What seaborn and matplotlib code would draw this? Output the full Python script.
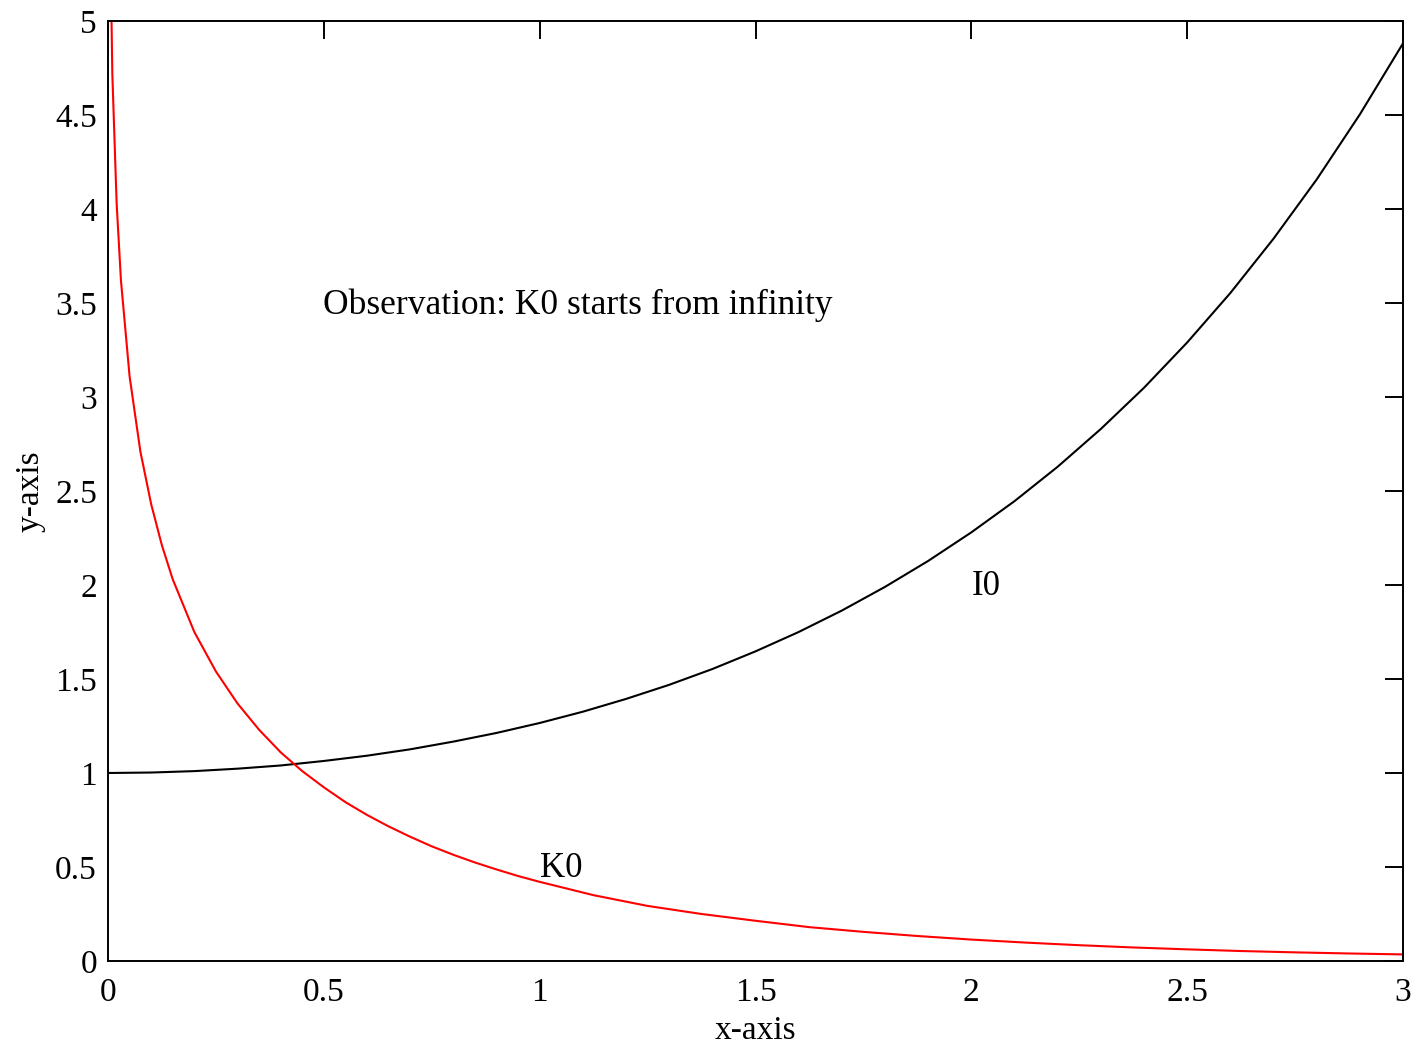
import matplotlib
matplotlib.use("Agg")
import matplotlib.pyplot as plt
import seaborn as sns
import pandas as pd

# Values
i0_x = [0.0, 0.1, 0.2, 0.3, 0.4, 0.5, 0.6, 0.7, 0.8, 0.9, 1.0, 1.1, 1.2, 1.3, 1.4, 1.5,
        1.6, 1.7, 1.8, 1.9, 2.0, 2.1, 2.2, 2.3, 2.4, 2.5, 2.6, 2.7, 2.8, 2.9, 3.0]
i0_y = [1.0, 1.0025, 1.010, 1.023, 1.040, 1.064, 1.092, 1.126, 1.167, 1.213, 1.266, 1.326,
        1.394, 1.469, 1.553, 1.647, 1.750, 1.864, 1.990, 2.128, 2.280, 2.446, 2.629, 2.830,
        3.049, 3.290, 3.553, 3.842, 4.157, 4.503, 4.881]

k0_x = [0.004, 0.01, 0.02, 0.03, 0.05, 0.075, 0.1, 0.125, 0.15, 0.2, 0.25, 0.3, 0.35, 0.4,
        0.45, 0.5, 0.55, 0.6, 0.65, 0.7, 0.75, 0.8, 0.85, 0.9, 0.95, 1.0, 1.125, 1.25, 1.375,
        1.5, 1.625, 1.75, 1.875, 2.0, 2.125, 2.25, 2.375, 2.5, 2.625, 2.75, 2.875, 3.0]
k0_y = [5.64, 4.72, 4.03, 3.62, 3.11, 2.71, 2.43, 2.21, 2.03, 1.75, 1.54, 1.37, 1.23, 1.11,
        1.01, 0.924, 0.845, 0.777, 0.716, 0.661, 0.61, 0.565, 0.524, 0.487, 0.452, 0.421,
        0.35, 0.293, 0.25, 0.214, 0.18, 0.155, 0.133, 0.114, 0.098, 0.084, 0.072, 0.062,
        0.053, 0.046, 0.04, 0.035]

xticks = [0, 0.5, 1, 1.5, 2, 2.5, 3]
xticklabels = ["0", "0.5", "1", "1.5", "2", "2.5", "3"]
yticks = [0, 0.5, 1, 1.5, 2, 2.5, 3, 3.5, 4, 4.5, 5]
yticklabels = ["0", "0.5", "1", "1.5", "2", "2.5", "3", "3.5", "4", "4.5", "5"]

sns.set_style("white")
plt.rcParams['font.family'] = ['Liberation Serif', 'DejaVu Serif']
plt.rcParams['text.color'] = 'black'
plt.rcParams['axes.labelcolor'] = 'black'

FS = 24

fig = plt.figure(figsize=(14.16, 10.47), dpi=100)
ax = fig.add_axes([108/1416, 1 - 961/1047, (1403 - 108)/1416, (961 - 21)/1047])

df_i = pd.DataFrame({"x": i0_x, "y": i0_y})
df_k = pd.DataFrame({"x": k0_x, "y": k0_y})
sns.lineplot(data=df_i, x="x", y="y", ax=ax, color="black", linewidth=1.5, sort=False)
sns.lineplot(data=df_k, x="x", y="y", ax=ax, color="red", linewidth=1.5, sort=False)

ax.set_xlim(0, 3)
ax.set_ylim(0, 5)
ax.set_xticks(xticks)
ax.set_xticklabels(xticklabels)
ax.set_yticks(yticks)
ax.set_yticklabels(yticklabels)
ax.tick_params(direction="in", length=13, width=1.4, top=True, right=True,
               labelsize=FS, colors="black")
ax.tick_params(axis="y", pad=8)
ax.tick_params(axis="x", pad=12)
for s in ax.spines.values():
    s.set_visible(True)
    s.set_color("black")
    s.set_linewidth(1.4)

ax.set_xlabel("x-axis", fontsize=FS)
ax.set_ylabel("y-axis", fontsize=FS)
ax.yaxis.set_label_coords(-0.048, 0.5)
ax.xaxis.set_label_coords(0.5, -0.058)

ax.text(0.498, 3.49, "Observation: K0 starts from infinity", fontsize=25.5, ha="left", va="center")
ax.text(2.0, 1.99, "I0", fontsize=25, ha="left", va="center")
ax.text(1.0, 0.49, "K0", fontsize=25, ha="left", va="center")

fig.savefig("out.png", dpi=100)
